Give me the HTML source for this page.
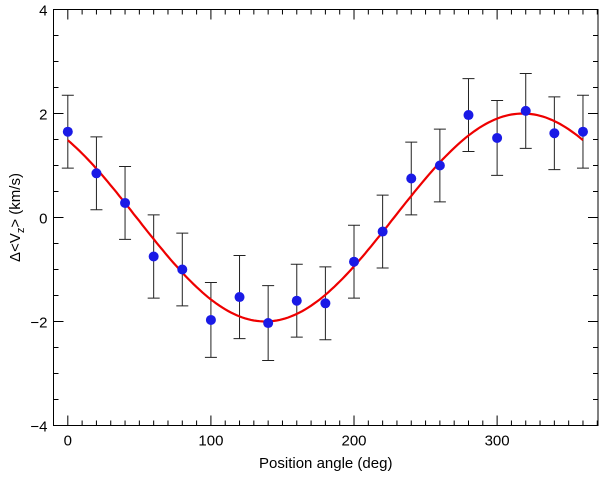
<!DOCTYPE html>
<html><head><meta charset="utf-8"><style>
body{margin:0;background:#fff;}
svg text{font-family:"Liberation Sans",Helvetica,sans-serif;fill:#000;}
</style></head><body>
<svg id="chart" width="600" height="472" xmlns="http://www.w3.org/2000/svg">
<g id="plot"></g>
</svg>
<script>
const angles=[0,20,40,60,80,100,120,140,160,180,200,220,240,260,280,300,320,340,360];
const values=[1.65,0.85,0.28,-0.75,-1.0,-1.97,-1.53,-2.03,-1.6,-1.65,-0.85,-0.27,0.75,1.0,1.97,1.53,2.05,1.62,1.65];
const errors=[0.7,0.7,0.7,0.8,0.7,0.72,0.8,0.72,0.7,0.7,0.7,0.7,0.7,0.7,0.7,0.72,0.72,0.7,0.7];
const fitAmp=2.0;
const fitPhase=318;
const xTicks=[0,100,200,300];
const yTicks=[-4,-2,0,2,4];

const L=53.5,R=598,T=9.5,B=425.5;
const xmin=-10,xmax=370.5,ymin=-4,ymax=4;
const X=v=>L+(v-xmin)/(xmax-xmin)*(R-L);
const Y=v=>B-(v-ymin)/(ymax-ymin)*(B-T);
const g=document.getElementById('plot');
const NS='http://www.w3.org/2000/svg';
function mk(t,a){const e=document.createElementNS(NS,t);for(const k in a)e.setAttribute(k,a[k]);g.appendChild(e);return e;}

// fit curve
let d='';
for(let a=0;a<=360;a+=2){const v=fitAmp*Math.cos((a-fitPhase)*Math.PI/180);d+=(a?'L':'M')+X(a).toFixed(1)+' '+Y(v).toFixed(1);}
// error bars
angles.forEach((a,i)=>{
  const x=X(a),y1=Y(values[i]+errors[i]),y2=Y(values[i]-errors[i]);
  const e=mk('path',{d:`M${x} ${y1}V${y2}M${x-6} ${y1}H${x+6}M${x-6} ${y2}H${x+6}`,stroke:'#222','stroke-width':1,fill:'none'});
  
  
});
const c=mk('path',{d:d,stroke:'#e00',fill:'none','stroke-width':2.2});


angles.forEach((a,i)=>{
  const p=mk('circle',{cx:X(a),cy:Y(values[i]),r:5,fill:'#1a1ae6'});
  
  
});
// frame
const f=mk('rect',{x:L,y:T,width:R-L,height:B-T,fill:'none',stroke:'#000','stroke-width':1});


// x ticks
for(let a=0;a<=xmax;a+=10){
  const maj=a%100===0,len=maj?10:5;
  let tk=mk('path',{d:`M${X(a)} ${B}v${-len}M${X(a)} ${T}v${len}`,stroke:'#000','stroke-width':1});
  
  
}
xTicks.forEach(a=>{
  const t=mk('text',{x:X(a),y:B+20,'text-anchor':'middle','font-size':15});t.textContent=a;
  
  
});
for(let v=-4;v<=4;v+=0.5){
  const maj=Number.isInteger(v/2),len=maj?10:5;
  let tk=mk('path',{d:`M${L} ${Y(v)}h${len}M${R} ${Y(v)}h${-len}`,stroke:'#000','stroke-width':1});
  
  
}
yTicks.forEach(v=>{
  const t=mk('text',{x:L-6,y:Y(v)+6,'text-anchor':'end','font-size':15});t.textContent=v<0?'\u2212'+(-v):v;
  
  
});
const xt=mk('text',{x:(L+R)/2,y:468,'text-anchor':'middle','font-size':15});xt.textContent='Position angle (deg)';


const yt=mk('text',{x:0,y:0,'text-anchor':'middle','font-size':15,transform:`translate(20 ${(T+B)/2}) rotate(-90)`});
yt.innerHTML='\u0394&lt;V<tspan font-size="11" dy="4">z</tspan><tspan dy="-4">&gt; (km/s)</tspan>';


</script>
</body></html>
